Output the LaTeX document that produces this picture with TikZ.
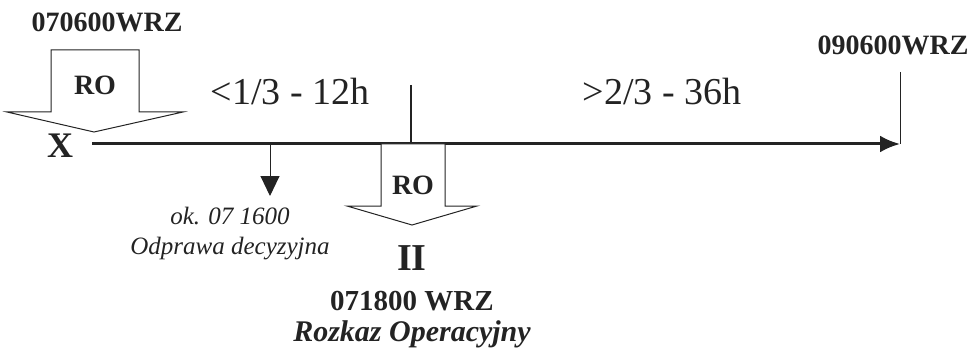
\documentclass[tikz,border=0pt]{standalone}
\usepackage{fontspec}
\setmainfont{Liberation Serif}
\usepackage{xcolor}
\usepackage{tikz}
\usetikzlibrary{arrows.meta,positioning}
\definecolor{InkGray}{RGB}{35,35,35}

\begin{document}
\begin{tikzpicture}[x=1pt,y=-1pt,InkGray,
    boldlbl/.style={font=\fontsize{28}{30}\selectfont\bfseries,inner sep=0pt},
    itlbl/.style={font=\fontsize{24}{28}\selectfont\itshape,inner sep=0pt},
    spanlbl/.style={font=\fontsize{38}{40}\selectfont,inner sep=0pt}]
        \useasboundingbox (0,0) rectangle (977,350);
        \draw[line width=1pt,fill=white] (51,50) -- (139,50) -- (139,112) -- (183,112) -- (94,132)
          -- (7,112) -- (51,112) -- cycle;
        \node[boldlbl] (ro1) at (95,85) {RO};
        \node[boldlbl] (start) at (107,22) {070600WRZ};
        \node[font=\fontsize{36}{38}\selectfont\bfseries,inner sep=0pt] (X) at (60,146) {X};
        \coordinate (t0) at (92,144);
        \coordinate (t1) at (900,144);
        \coordinate (endtop) at (900,72);
        \node[boldlbl] (stop) at (893,45) {090600WRZ};
        \draw[-{Latex[length=20pt,width=17pt]},line width=3pt] (t0)--(t1);
        \draw[line width=1pt] (endtop)--(t1);
        \coordinate (divtop) at (411,85);
        \coordinate (divbot) at (411,144);
        \draw[line width=1.5pt] (divtop)--(divbot);
        \node[spanlbl] (first) at (290,92) {<1/3 - 12h};
        \node[spanlbl] (second) at (662,92) {>2/3 - 36h};
        \coordinate (brief) at (270,144);
        \coordinate (briefend) at (270,196);
        \node[itlbl,align=center,font=\fontsize{25}{30}\selectfont\itshape] (odp) at (230,234)
          {ok. 07 1600\\Odprawa decyzyjna};
        \draw[-{Triangle[length=20pt,width=19pt]},line width=1pt] (brief)--(briefend);
        \draw[line width=1pt,fill=white] (381,144) -- (445,144) -- (445,206) -- (477,206) -- (412,225)
          -- (347,206) -- (381,206) -- cycle;
        \node[boldlbl] (ro2) at (413,185) {RO};
        \node[font=\fontsize{38}{40}\selectfont\bfseries,inner sep=0pt] (II) at (412,258) {II};
        \node[boldlbl,font=\fontsize{29}{30}\selectfont\bfseries,below=20pt of II] (time2) {071800 WRZ};
        \node[font=\fontsize{30}{32}\selectfont\bfseries\itshape,inner sep=0pt,below=10pt of time2] (rozkaz)
          {Rozkaz Operacyjny};
      \end{tikzpicture}
\end{document}
